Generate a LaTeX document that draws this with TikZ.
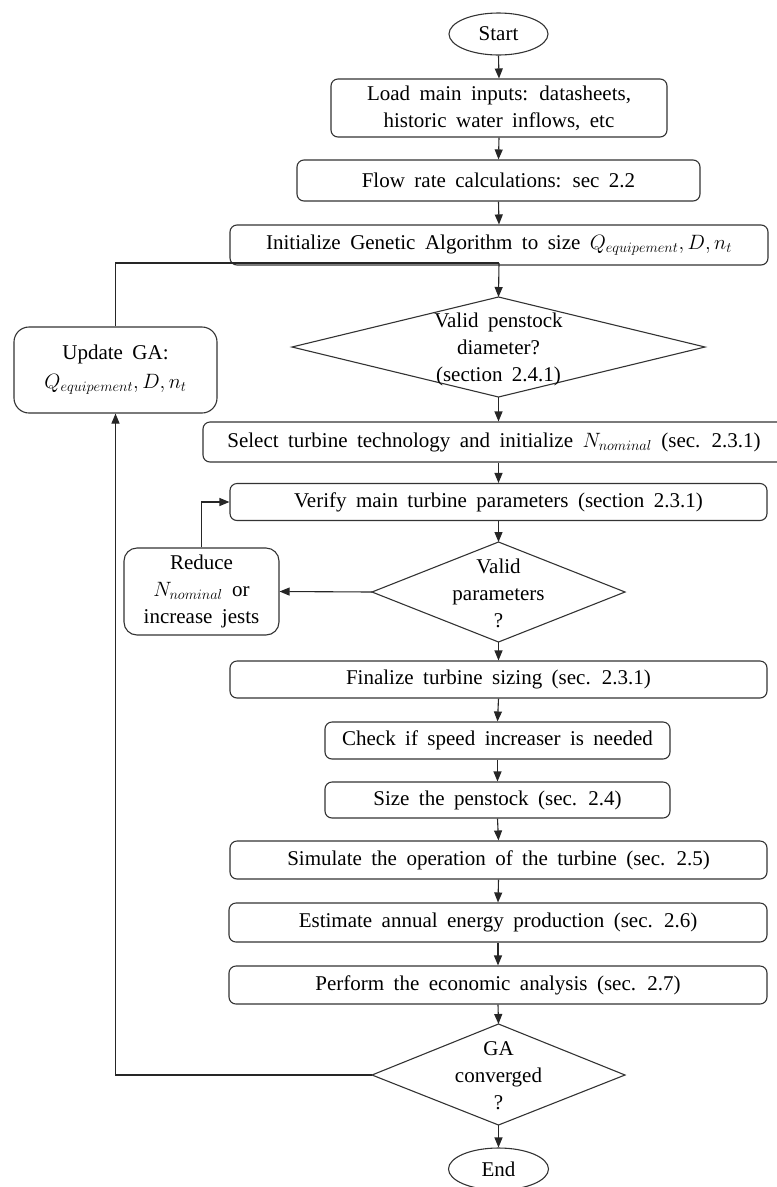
\documentclass[tikz,border=0pt]{standalone}
\usepackage{fontspec}
\setmainfont{Liberation Serif}[WordSpace=1.8]
\usetikzlibrary{arrows.meta,calc,shapes.geometric}
\begin{document}
\begin{tikzpicture}[x=1pt,y=-1pt,
  every node/.style={font=\rmfamily\fontsize{21}{27}\selectfont, text=black},
  box/.style={draw=black!80, line width=1.1pt, rounded corners=7pt, inner sep=2pt, align=center},
  term/.style={draw=black!80, line width=1.1pt, ellipse, inner sep=0pt},
  dia/.style={draw=black!80, line width=1.1pt},
  dtext/.style={align=center, inner sep=0pt},
  arr/.style={draw=black!85, line width=1.1pt, -{Triangle[length=10pt,width=8pt]}},
  ln/.style={draw=black!85, line width=1.1pt}]
\useasboundingbox (0,0) rectangle (777,1187);
\clip (0,0) rectangle (777,1187);

% terminals
\node[term, minimum width=99pt, minimum height=42pt] (start) at (498.5,34) {Start};
\node[term, minimum width=100pt, minimum height=42pt] (end) at (498.5,1169) {End};

% boxes
\node[box, minimum width=336pt, minimum height=58pt] (load) at (499,108)
  {Load main inputs: datasheets,\\historic water inflows, etc};
\node[box, minimum width=403pt, minimum height=41pt] (flow) at (498.5,180.5)
  {Flow rate calculations: sec 2.2};
\node[box, minimum width=538pt, minimum height=40pt] (init) at (499,245)
  {Initialize Genetic Algorithm to size $Q_{equipement}, D, n_t$};
\node[box, rounded corners=15pt, minimum width=203pt, minimum height=86pt] (upd) at (115.5,370)
  {Update GA:\\[2pt]$Q_{equipement}, D, n_t$};
\node[box, minimum width=582pt, minimum height=40pt] (sel) at (494,442)
  {Select turbine technology and initialize $N_{nominal}$ (sec. 2.3.1)};
\node[box, minimum width=537pt, minimum height=37pt] (ver) at (498.5,502)
  {Verify main turbine parameters (section 2.3.1)};
\node[box, rounded corners=13pt, minimum width=155pt, minimum height=87pt] (red) at (201.5,591.5)
  {Reduce\\$N_{nominal}$ or\\increase jests};
\node[box, minimum width=537pt, minimum height=37pt] (fin) at (498.5,679.5)
  {Finalize turbine sizing (sec. 2.3.1)};
\node[box, minimum width=345pt, minimum height=37pt] (chk) at (497.5,740.5)
  {Check if speed increaser is needed};
\node[box, minimum width=345pt, minimum height=36pt] (size) at (497.5,800)
  {Size the penstock (sec. 2.4)};
\node[box, minimum width=537pt, minimum height=38pt] (sim) at (498.5,860)
  {Simulate the operation of the turbine (sec. 2.5)};
\node[box, minimum width=538pt, minimum height=39pt] (est) at (498,922.5)
  {Estimate annual energy production (sec. 2.6)};
\node[box, minimum width=538pt, minimum height=38pt] (perf) at (498,985)
  {Perform the economic analysis (sec. 2.7)};

% diamond 1
\coordinate (d1n) at (498.5,297);
\coordinate (d1e) at (705,347);
\coordinate (d1s) at (498.5,397);
\coordinate (d1w) at (292,347);
\draw[dia] (d1n) -- (d1e) -- (d1s) -- (d1w) -- cycle;
\node[dtext] (d1) at (498.5,349) {Valid penstock\\diameter?\\(section 2.4.1)};

% diamond 2
\coordinate (d2n) at (498.5,542);
\coordinate (d2e) at (625,592);
\coordinate (d2s) at (498.5,642);
\coordinate (d2w) at (372,592);
\draw[dia] (d2n) -- (d2e) -- (d2s) -- (d2w) -- cycle;
\node[dtext] (d2) at (498.5,593) {Valid\\parameters\\?};

% diamond 3
\coordinate (d3n) at (498.5,1024);
\coordinate (d3e) at (625,1075);
\coordinate (d3s) at (498.5,1125);
\coordinate (d3w) at (372,1075);
\draw[dia] (d3n) -- (d3e) -- (d3s) -- (d3w) -- cycle;
\node[dtext] (d3) at (498.5,1076) {GA\\converged\\?};

% junction of loop
\coordinate (j) at (499,263);

% connectors
\draw[arr] (start.south) -- (load.north);
\draw[arr] (load.south) -- (flow.north);
\draw[arr] (flow.south) -- (init.north);
\draw[arr] (j) -- (d1n);
\draw[ln] (upd.north) |- (j);
\draw[arr] (d1s) -- (d1s |- sel.north);
\draw[arr] (d1s |- sel.south) -- (ver.north);
\draw[arr] (ver.south) -- (d2n);
\draw[arr] (d2w) -- (red.east);
\draw[arr] (red.north) |- (ver.west);
\draw[arr] (d2s) -- (fin.north);
\draw[arr] (fin.south) -- (chk.north);
\draw[arr] (chk.south) -- (size.north);
\draw[arr] (size.south) -- (sim.north);
\draw[arr] (sim.south) -- (est.north);
\draw[arr] (est.south) -- (perf.north);
\draw[arr] (perf.south) -- (d3n);
\draw[arr] (d3s) -- (end.north);
\draw[arr] (d3w) -| (upd.south);
\end{tikzpicture}
\end{document}
